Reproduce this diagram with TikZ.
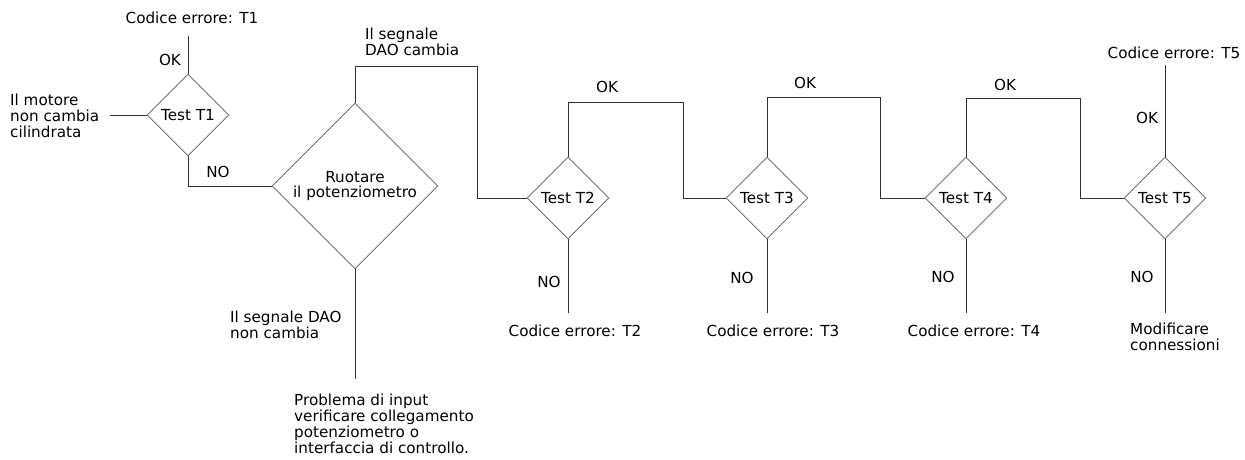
\documentclass[tikz,border=0pt]{standalone}
\usepackage{fontspec}
\setmainfont{DejaVu Sans}
\usetikzlibrary{shapes.geometric,positioning}
\tikzset{
  test/.style={draw=black!55, line width=0.9, diamond, aspect=1, inner sep=-5pt, minimum size=82},
  bigtest/.style={test, minimum size=166, align=center},
  lbl/.style={inner sep=0pt},
  wire/.style={draw=black!80, line width=0.9}
}
\begin{document}
\begin{tikzpicture}[x=1pt,y=-1pt,every node/.style={font=\fontsize{15.2}{15.8}\selectfont}]
\useasboundingbox (0,0) rectangle (1245,459);
% Shape: Diamonds
\node[test] (t1) at (188,115) {Test T1};
\node[bigtest] (rot) at (355,186) {Ruotare\\il potenziometro};
\node[test] (t2) at (568,198) {Test T2};
\node[test] (t3) at (767,198) {Test T3};
\node[test] (t4) at (966,198) {Test T4};
\node[test] (t5) at (1165,198) {Test T5};
% free ends and corners
\coordinate (c1) at (188,36);
\coordinate (c0) at (110,115);
\coordinate (c5) at (1165,65);
\coordinate (crot) at (355,379);
\coordinate (k1) at (477,66);
\coordinate (k2) at (683,102);
\coordinate (k3) at (880,97);
\coordinate (k4) at (1080,98);
\coordinate (n2) at (568,313);
\coordinate (n3) at (767,313);
\coordinate (n4) at (966,313);
\coordinate (n5) at (1165,313);
% Text Node
\node[lbl] (e1) at (192,18) {Codice errore: T1};
\node[lbl] (ok1) at (170,60) {OK};
\node[lbl, anchor=west, align=left] (motore) at (10,116) {Il motore\\non cambia\\cilindrata};
\node[lbl] (no1) at (218,172) {NO};
\node[lbl, anchor=west, align=left] (cambia) at (365,42) {Il segnale\\DAO cambia};
\node[lbl] (ok2) at (607,87) {OK};
\node[lbl] (ok3) at (805,83) {OK};
\node[lbl] (ok4) at (1005,85) {OK};
\node[lbl] (ok5) at (1147,118) {OK};
\node[lbl] (e5) at (1174,53) {Codice errore: T5};
\node[lbl] (no2) at (549,282) {NO};
\node[lbl] (no3) at (742,278) {NO};
\node[lbl] (no4) at (943,277) {NO};
\node[lbl] (no5) at (1142,277) {NO};
\node[lbl] (e2) at (575,331) {Codice errore: T2};
\node[lbl] (e3) at (773,331) {Codice errore: T3};
\node[lbl] (e4) at (974,331) {Codice errore: T4};
\node[lbl, anchor=west, align=left] (modif) at (1130,337) {Modificare\\connessioni};
\node[lbl, anchor=west, align=left] (noncambia) at (230,325) {Il segnale DAO\\non cambia};
\node[lbl, anchor=west, align=left] (probl) at (294,424) {Problema di input\\verificare collegamento\\potenziometro o\\interfaccia di controllo.};
% Connectors
\draw[wire] (t1.north) -- (c1);
\draw[wire] (c0) -- (t1.west);
\draw[wire] (t1.south) |- (rot.west);
\draw[wire] (rot.north) |- (k1) |- (t2.west);
\draw[wire] (t2.north) |- (k2) |- (t3.west);
\draw[wire] (t3.north) |- (k3) |- (t4.west);
\draw[wire] (t4.north) |- (k4) |- (t5.west);
\draw[wire] (t5.north) -- (c5);
\draw[wire] (rot.south) -- (crot);
\draw[wire] (t2.south) -- (n2);
\draw[wire] (t3.south) -- (n3);
\draw[wire] (t4.south) -- (n4);
\draw[wire] (t5.south) -- (n5);
\end{tikzpicture}
\end{document}
